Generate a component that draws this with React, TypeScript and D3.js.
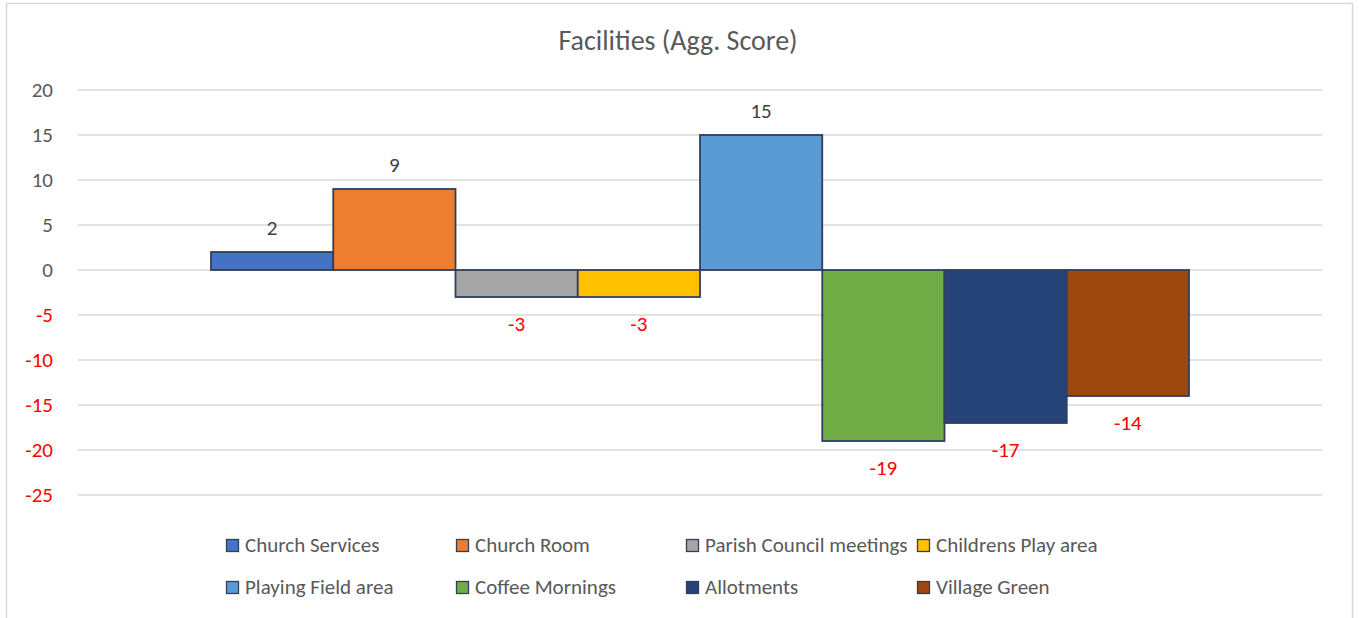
import React from "react";
import * as d3 from "d3";

const categories = ["Church Services", "Church Room", "Parish Council meetings", "Childrens Play area", "Playing Field area", "Coffee Mornings", "Allotments", "Village Green"];
const values = [2, 9, -3, -3, 15, -19, -17, -14];
const colors = ["#4472C4", "#ED7D31", "#A5A5A5", "#FFC000", "#5B9BD5", "#70AD47", "#264478", "#9E480E"];
const yTicks = [20, 15, 10, 5, 0, -5, -10, -15, -20, -25];
const title = "Facilities (Agg. Score)";

const W = 1359, H = 618;
const plotLeft = 78, plotRight = 1322;
const font = "Calibri, Carlito, 'Liberation Sans', Arial, sans-serif";

export default function App() {
  const y = d3.scaleLinear().domain([-25, 20]).range([495, 90]);
  const group = d3.scaleBand().domain(["g"]).range([plotLeft, plotRight]).paddingInner(0).paddingOuter(0.136);
  const x = d3.scaleBand().domain(categories).range([group("g")!, group("g")! + group.bandwidth()]).padding(0);
  const legendCols = [226, 456, 686, 917];
  const legendRows = [539, 581];
  return (
    <svg width={W} height={H} style={{ position: "absolute", left: 0, top: 0 }}>
      <rect x={0} y={0} width={W} height={H} fill="#fff" />
      <rect x={6.5} y={3.5} width={1346} height={700} fill="#fff" stroke="#D9D9D9" strokeWidth={1.5} />
      <text x={678} y={50} textAnchor="middle" fontFamily={font} fontSize={28} fill="#595959">{title}</text>
      {yTicks.map((t) => (
        <g key={t}>
          <line x1={plotLeft} x2={plotRight} y1={y(t)} y2={y(t)} stroke="#D9D9D9" strokeWidth={1.5} />
          <text x={53} y={y(t) + 7} textAnchor="end" fontFamily={font} fontSize={21} fill={t < 0 ? "#FF0000" : "#595959"}>{t}</text>
        </g>
      ))}
      {categories.map((c, i) => {
        const v = values[i];
        const x0 = x(c)!;
        const top = y(Math.max(0, v));
        const bot = y(Math.min(0, v));
        return (
          <g key={c}>
            <rect x={x0} y={top} width={x.bandwidth()} height={bot - top} fill={colors[i]} stroke="#2F3F5C" strokeWidth={1.8} />
            <text x={x0 + x.bandwidth() / 2} y={v >= 0 ? top - 17 : bot + 34} textAnchor="middle" fontFamily={font} fontSize={21} fill={v < 0 ? "#FF0000" : "#404040"}>{v}</text>
          </g>
        );
      })}
      {categories.map((c, i) => {
        const cx = legendCols[i % 4];
        const cy = legendRows[Math.floor(i / 4)];
        return (
          <g key={"l" + c}>
            <rect x={cx + 0.5} y={cy + 0.5} width={12} height={12} fill={colors[i]} stroke="#2F3F5C" strokeWidth={1.3} />
            <text x={cx + 19} y={cy + 13} fontFamily={font} fontSize={21} fill="#595959">{c}</text>
          </g>
        );
      })}
    </svg>
  );
}
